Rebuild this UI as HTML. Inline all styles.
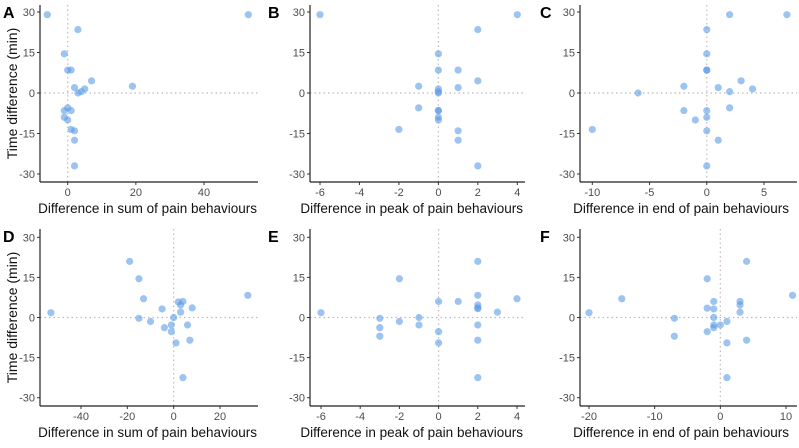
<!DOCTYPE html>
<html><head><meta charset="utf-8"><style>
body{margin:0;background:#fff;width:799px;height:443px;overflow:hidden}
svg{font-family:"Liberation Sans",sans-serif}
</style></head><body>
<svg id="chart" width="799" height="443" viewBox="0 0 799 443"></svg>
<script>
const aX=[-6,53,3,-1,0,1,7,19,2,5,4,3,0,-1,1,-1,0,1,2,2,2];
const aY=[29,29,23.5,14.5,8.5,8.5,4.5,2.5,2,1.5,0.5,0,-5.5,-6.5,-6.5,-9,-10,-13.5,-14,-17.5,-27];
const bX=[-6,4,2,0,0,1,2,-1,1,0,0,0,-1,0,0,0,0,-2,1,1,2];
const bY=[29,29,23.5,14.5,8.5,8.5,4.5,2.5,2,1.5,0.5,0,-5.5,-6.5,-6.5,-9,-10,-13.5,-14,-17.5,-27];
const cX=[2,7,0,0,0,0,3,-2,1,4,2,-6,2,-2,0,0,-1,-10,0,1,0];
const cY=[29,29,23.5,14.5,8.5,8.5,4.5,2.5,2,1.5,0.5,0,-5.5,-6.5,-6.5,-9,-10,-13.5,-14,-17.5,-27];
const dX=[-19,-15,-13,-53,-15,-10,-5,-4,0,-1,-1,2,3,4,3,8,6,7,1,4,32];
const dY=[21,14.5,7,1.8,-0.3,-1.5,3.2,-3.8,0,-2.8,-5.3,5.8,4.7,6,2,3.6,-2.8,-8.5,-9.5,-22.5,8.3];
const eX=[2,-2,2,4,0,1,2,2,2,3,-6,-3,-1,-2,-1,-3,-3,0,0,2,2,2];
const eY=[21,14.5,8.3,7,6,6,4.7,3.6,3.3,2,1.8,-0.3,0,-1.5,-2.8,-3.8,-7,-5.3,-9.5,-2.8,-8.5,-22.5];
const fX=[4,-2,11,-15,-1,3,3,-2,-1,3,-20,-7,-1,1,0,-1,-1,-2,-7,4,1,1];
const fY=[21,14.5,8.3,7,6,6,4.7,3.5,3.2,2,1.8,-0.3,0,-1.5,-2.8,-2.8,-3.8,-5.3,-7,-8.5,-9.5,-22.5];
const yTicks=[30,15,0,-15,-30];
const aTicks=[0,20,40], bTicks=[-6,-4,-2,0,2,4], cTicks=[-10,-5,0,5];
const dTicks=[-40,-20,0,20], eTicks=[-6,-4,-2,0,2,4], fTicks=[-20,-10,0,10];

const panels=[
 {id:'a',L:'A',xs:aX,ys:aY,xt:aTicks,title:'Difference in sum of pain behaviours',ax:40,r:258,te:257,t:5,b:182,y30:12,ym30:174,x1:[0,67.7],x2:[40,204],ytitle:true,lx:3},
 {id:'b',L:'B',xs:bX,ys:bY,xt:bTicks,title:'Difference in peak of pain behaviours',ax:310,r:525,te:523,t:5,b:182,y30:12,ym30:174,x1:[-6,320],x2:[4,517.3],lx:268},
 {id:'c',L:'C',xs:cX,ys:cY,xt:cTicks,title:'Difference in end of pain behaviours',ax:580,r:797,te:789,t:5,b:182,y30:12,ym30:174,x1:[-10,592.3],x2:[5,764],lx:540},
 {id:'d',L:'D',xs:dX,ys:dY,xt:dTicks,title:'Difference in sum of pain behaviours',ax:40,r:258,te:257,t:229,b:406,y30:237.3,ym30:397.7,x1:[-40,81],x2:[20,220],ytitle:true,lx:3},
 {id:'e',L:'E',xs:eX,ys:eY,xt:eTicks,title:'Difference in peak of pain behaviours',ax:310,r:525,te:523,t:229,b:406,y30:237.3,ym30:397.7,x1:[-6,321],x2:[4,517],lx:268},
 {id:'f',L:'F',xs:fX,ys:fY,xt:fTicks,title:'Difference in end of pain behaviours',ax:580,r:797,te:789,t:229,b:406,y30:237.3,ym30:397.7,x1:[-20,589],x2:[10,786],lx:540}
];
const svg=document.getElementById('chart');
const NS='http://www.w3.org/2000/svg';
function mk(tag,attrs,parent){const e=document.createElementNS(NS,tag);for(const k in attrs)e.setAttribute(k,attrs[k]);parent.appendChild(e);return e;}
panels.forEach(p=>{
 const g=mk('g',{},svg);
 
 
 const sx=v=>p.x1[1]+(v-p.x1[0])*(p.x2[1]-p.x1[1])/(p.x2[0]-p.x1[0]);
 const sy=v=>p.y30+(30-v)*(p.ym30-p.y30)/60;
 const h=mk('line',{x1:p.ax,x2:p.r,y1:sy(0),y2:sy(0),stroke:'#bbb','stroke-dasharray':'1.5 3','stroke-width':1.2},g);
 
 
 const v=mk('line',{x1:sx(0),x2:sx(0),y1:p.t,y2:p.b,stroke:'#c9b8b8','stroke-dasharray':'1.5 3','stroke-width':1.2},g);
 
 
 p.xs.forEach((x,i)=>{
  const c=mk('circle',{cx:sx(x),cy:sy(p.ys[i]),r:3.6,fill:'#5b9be6','fill-opacity':0.6},g);
  
  
 });
 const ya=mk('line',{x1:p.ax,x2:p.ax,y1:p.t,y2:p.b,stroke:'#222','stroke-width':1.2},g);
 
 
 const xa=mk('line',{x1:p.ax,x2:p.r,y1:p.b,y2:p.b,stroke:'#222','stroke-width':1.2},g);
 
 
 yTicks.forEach(t=>{
  mk('line',{x1:p.ax-3,x2:p.ax,y1:sy(t),y2:sy(t),stroke:'#333'},g);
  const tx=mk('text',{x:p.ax-5,y:sy(t)+4,'text-anchor':'end','font-size':11,fill:'#4d4d4d'},g);
  tx.textContent=t;
  
  
 });
 p.xt.forEach(t=>{
  mk('line',{x1:sx(t),x2:sx(t),y1:p.b,y2:p.b+3,stroke:'#333'},g);
  const tx=mk('text',{x:sx(t),y:p.b+14,'text-anchor':'middle','font-size':11,fill:'#4d4d4d'},g);
  tx.textContent=t;
  
  
 });
 const xt=mk('text',{x:p.te,y:p.b+31,'text-anchor':'end','font-size':13.5,fill:'#111'},g);
 xt.textContent=p.title;
 
 
 if(p.ytitle){
  const cy=(p.t+p.b)/2;
  const yt=mk('text',{x:17,y:cy,'text-anchor':'middle','font-size':14,fill:'#111',transform:'rotate(-90 17 '+cy+')'},g);
  yt.textContent='Time difference (min)';
  
  
 }
 const lb=mk('text',{x:p.lx,y:p.t+13,'font-size':16,'font-weight':'bold',fill:'#000'},g);
 lb.textContent=p.L;
 
 
});
</script>
</body></html>
